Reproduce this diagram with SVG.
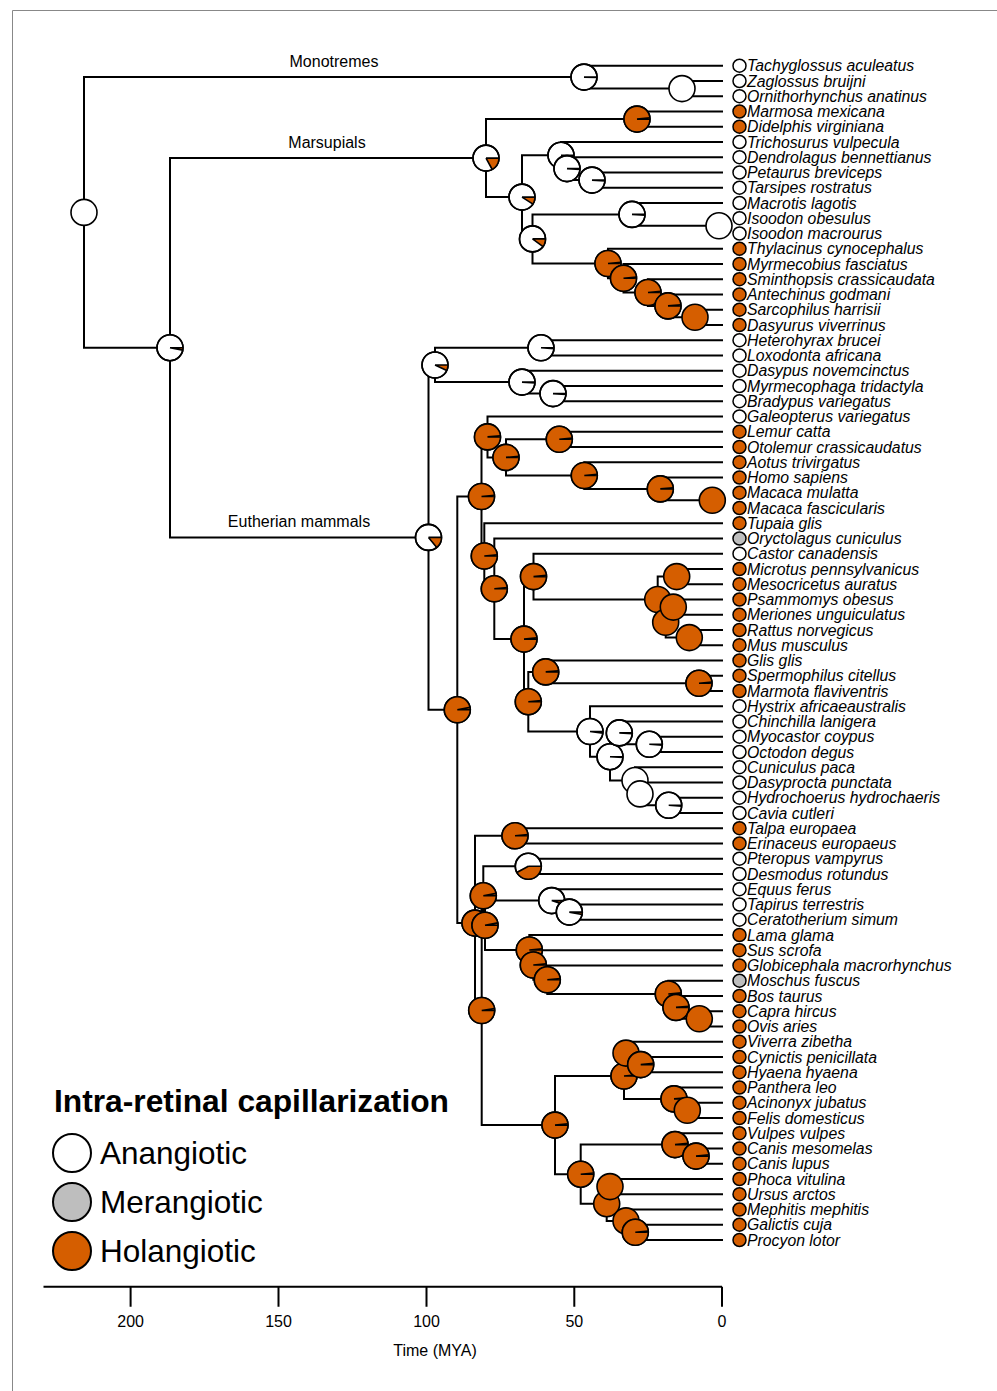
<svg xmlns="http://www.w3.org/2000/svg" xmlns:xlink="http://www.w3.org/1999/xlink" width="997" height="1391" viewBox="0 0 997 1391">
<style>
.br{fill:none;stroke:#000;stroke-width:2}
.pw{fill:#fff;stroke:#000;stroke-width:1.6}
.po{fill:#D55E00;stroke:#000;stroke-width:1.6}
.pb{fill:none;stroke:#000;stroke-width:1.6}
.wo{fill:none;stroke:#D55E00;stroke-width:13}
.rl{fill:none;stroke:#000;stroke-width:1.6}
.tips circle{stroke:#000;stroke-width:1.5}
.lw{fill:#fff}.lo{fill:#D55E00}.lg{fill:#BEBEBE}
.sp{font-family:"Liberation Sans",Arial,sans-serif;font-style:italic;font-size:15.8px;fill:#000}
.cl{font-family:"Liberation Sans",Arial,sans-serif;font-size:16px;fill:#000;text-anchor:middle}
.lt{font-family:"Liberation Sans",Arial,sans-serif;font-size:31.5px;fill:#000}
.ax{font-family:"Liberation Sans",Arial,sans-serif;font-size:16px;fill:#000;text-anchor:middle}
.lc{stroke:#000;stroke-width:2}
</style>
<defs>
<circle id="PW" class="pw" r="13"/>
<circle id="PO" class="po" r="13"/>
<g id="P005"><circle class="pw" r="13"/><circle class="wo" r="6.5" stroke-dasharray="0.2 50"/><path class="rl" d="M0,0H13M0,0L12.99,0.41"/><circle class="pb" r="13"/></g>
<g id="P01"><circle class="pw" r="13"/><circle class="wo" r="6.5" stroke-dasharray="0.41 50"/><path class="rl" d="M0,0H13M0,0L12.97,0.82"/><circle class="pb" r="13"/></g>
<g id="P02"><circle class="pw" r="13"/><circle class="wo" r="6.5" stroke-dasharray="0.82 50"/><path class="rl" d="M0,0H13M0,0L12.9,1.63"/><circle class="pb" r="13"/></g>
<g id="P03"><circle class="pw" r="13"/><circle class="wo" r="6.5" stroke-dasharray="1.23 50"/><path class="rl" d="M0,0H13M0,0L12.77,2.44"/><circle class="pb" r="13"/></g>
<g id="P05"><circle class="pw" r="13"/><circle class="wo" r="6.5" stroke-dasharray="2.04 50"/><path class="rl" d="M0,0H13M0,0L12.36,4.02"/><circle class="pb" r="13"/></g>
<g id="P07"><circle class="pw" r="13"/><circle class="wo" r="6.5" stroke-dasharray="2.86 50"/><path class="rl" d="M0,0H13M0,0L11.76,5.53"/><circle class="pb" r="13"/></g>
<g id="P09"><circle class="pw" r="13"/><circle class="wo" r="6.5" stroke-dasharray="3.68 50"/><path class="rl" d="M0,0H13M0,0L10.98,6.97"/><circle class="pb" r="13"/></g>
<g id="P10"><circle class="pw" r="13"/><circle class="wo" r="6.5" stroke-dasharray="4.08 50"/><path class="rl" d="M0,0H13M0,0L10.52,7.64"/><circle class="pb" r="13"/></g>
<g id="P14"><circle class="pw" r="13"/><circle class="wo" r="6.5" stroke-dasharray="5.72 50"/><path class="rl" d="M0,0H13M0,0L8.29,10.02"/><circle class="pb" r="13"/></g>
<g id="P17"><circle class="pw" r="13"/><circle class="wo" r="6.5" stroke-dasharray="6.94 50"/><path class="rl" d="M0,0H13M0,0L6.26,11.39"/><circle class="pb" r="13"/></g>
<g id="P42"><circle class="pw" r="13"/><circle class="wo" r="6.5" stroke-dasharray="17.15 50"/><path class="rl" d="M0,0H13M0,0L-11.39,6.26"/><circle class="pb" r="13"/></g>
<g id="P97"><circle class="pw" r="13"/><circle class="wo" r="6.5" stroke-dasharray="39.62 50"/><path class="rl" d="M0,0H13M0,0L12.77,-2.44"/><circle class="pb" r="13"/></g>
<g id="P975"><circle class="pw" r="13"/><circle class="wo" r="6.5" stroke-dasharray="39.82 50"/><path class="rl" d="M0,0H13M0,0L12.84,-2.03"/><circle class="pb" r="13"/></g>
<g id="P985"><circle class="pw" r="13"/><circle class="wo" r="6.5" stroke-dasharray="40.23 50"/><path class="rl" d="M0,0H13M0,0L12.94,-1.22"/><circle class="pb" r="13"/></g>
</defs>
<rect width="997" height="1391" fill="#fff"/>
<path d="M12.5,1391V10.5H997" fill="none" stroke="#888" stroke-width="1"/>

<g id="connectors" class="br">
<path d="M584,77.1H84V347.7H170M723,65.7H584V88.6H682M723,81H682V96.2H723"/>
<path d="M486,158.1H170V537.4H428.5M637,119.1H486V197.1H522M723,111.5H637V126.7H723M561,155.3H522V238.9H532.5M723,142H561V168.6H567M723,157.2H567V180.1H592M723,172.5H592V187.7H723"/>
<path d="M632,214.4H532.5V263.5H608M723,203H632V225.8H719M723,218.2H719V233.5H723M723,248.7H608V278.3H623.5M723,264H623.5V292.5H648M723,279.2H648V305.9H668M723,294.5H668V317.3H695M723,309.7H695V325H723"/>
<path d="M435,365H428.5V709.8H457.3M541,347.8H435V382.1H522M723,340.2H541V355.5H723M723,370.7H522V393.6H553M723,386H553V401.2H723"/>
<path d="M481.5,496.5H457.3V923.1H475M487.5,436.9H481.5V556H484.3M723,416.5H487.5V457.4H506M559.3,439.3H506V475.5H584.3M723,431.7H559.3V447H723M723,462.2H584.3V488.9H660.3M723,477.5H660.3V500.3H712.3M723,492.7H712.3V508H723"/>
<path d="M723,523.2H484.3V588.8H494.3M723,538.5H494.3V639.1H524M533.5,576.6H524V701.7H528.3M723,553.7H533.5V599.5H657.7M676.7,576.6H657.7V622.3H665.7M723,569H676.7V584.2H723M673.3,607.1H665.7V637.6H689.3M723,599.5H673.3V614.7H723M723,630H689.3V645.2H723"/>
<path d="M545.7,671.9H528.3V731.5H590M723,660.5H545.7V683.3H699M723,675.7H699V691H723M723,706.2H590V756.7H610M619.3,732.9H610V780.5H635M723,721.5H619.3V744.3H649.3M723,736.7H649.3V752H723M723,767.2H635V793.9H640M723,782.5H640V805.3H668.7M723,797.7H668.7V813H723"/>
<path d="M515,835.8H475V1010.5H481.7M723,828.2H515V843.5H723M483.3,895.8H481.7V1125.1H555M528.3,866.3H483.3V925.3H485M723,858.7H528.3V874H723M551.7,900.6H485V950H529.3M723,889.2H551.7V912.1H569.3M723,904.5H569.3V919.7H723"/>
<path d="M723,935H529.3V965H533.3M723,950.2H533.3V979.8H547.3M723,965.5H547.3V994H668.3M723,980.7H668.3V1007.4H676M723,996H676V1018.8H699.3M723,1011.2H699.3V1026.5H723"/>
<path d="M624,1076H555V1174.2H580.7M626,1053.1H624V1098.9H674M723,1041.7H626V1064.6H640.7M723,1057H640.7V1072.2H723M723,1087.5H674V1110.3H687.3M723,1102.7H687.3V1118H723"/>
<path d="M675,1144.6H580.7V1203.7H606.7M723,1133.2H675V1156.1H696M723,1148.5H696V1163.7H723M610,1186.6H606.7V1220.9H626M723,1179H610V1194.2H723M723,1209.5H626V1232.3H635.3M723,1224.7H635.3V1240H723"/>
</g>

<g id="clade-labels">
<text class="cl" x="334" y="66.5">Monotremes</text>
<text class="cl" x="327" y="147.5">Marsupials</text>
<text class="cl" x="299" y="526.5">Eutherian mammals</text>
</g>

<g id="internal-nodes">
<g id="n-root"><use href="#PW" x="84" y="212.4"/></g>
<g id="n-monotremes"><use href="#P005" x="584" y="77.1"/></g>
<g id="n-zaglossus-ornitho"><use href="#PW" x="682" y="88.6"/></g>
<g id="n-theria"><use href="#P03" x="170" y="347.7"/></g>
<g id="n-marsupials"><use href="#P17" x="486" y="158.1"/></g>
<g id="n-didelphids"><use href="#P985" x="637" y="119.1"/></g>
<g id="n-australidelphia"><use href="#P09" x="522" y="197.1"/></g>
<g id="n-diprotodontia"><use href="#P01" x="561" y="155.3"/></g>
<g id="n-dendro-pet-tars"><use href="#P01" x="567" y="168.6"/></g>
<g id="n-pet-tars"><use href="#P01" x="592" y="180.1"/></g>
<g id="n-pera-dasyuro"><use href="#P10" x="532.5" y="238.9"/></g>
<g id="n-peramelidae"><use href="#P01" x="632" y="214.4"/></g>
<g id="n-isoodon"><use href="#PW" x="719" y="225.8"/></g>
<g id="n-dasyuromorphia"><use href="#P985" x="608" y="263.5"/></g>
<g id="n-myrmecobius"><use href="#P985" x="623.5" y="278.3"/></g>
<g id="n-sminthopsis"><use href="#P985" x="648" y="292.5"/></g>
<g id="n-antechinus"><use href="#P985" x="668" y="305.9"/></g>
<g id="n-sarco-dasyurus"><use href="#PO" x="695" y="317.3"/></g>
<g id="n-eutheria"><use href="#P14" x="428.5" y="537.4"/></g>
<g id="n-atlantogenata"><use href="#P07" x="435" y="365"/></g>
<g id="n-afrotheria"><use href="#P01" x="541" y="347.8"/></g>
<g id="n-xenarthra"><use href="#P01" x="522" y="382.1"/></g>
<g id="n-pilosa"><use href="#P01" x="553" y="393.6"/></g>
<g id="n-boreoeutheria"><use href="#P97" x="457.3" y="709.8"/></g>
<g id="n-euarchontoglires"><use href="#P985" x="481.5" y="496.5"/></g>
<g id="n-euarchonta"><use href="#P985" x="487.5" y="436.9"/></g>
<g id="n-primates"><use href="#P985" x="506" y="457.4"/></g>
<g id="n-strepsirrhini"><use href="#P985" x="559.3" y="439.3"/></g>
<g id="n-haplorhini"><use href="#P985" x="584.3" y="475.5"/></g>
<g id="n-catarrhini"><use href="#P985" x="660.3" y="488.9"/></g>
<g id="n-macaca"><use href="#PO" x="712.3" y="500.3"/></g>
<g id="n-tupaia-glires"><use href="#P985" x="484.3" y="556"/></g>
<g id="n-glires"><use href="#P985" x="494.3" y="588.8"/></g>
<g id="n-rodentia"><use href="#P985" x="524" y="639.1"/></g>
<g id="n-castor-muroidea"><use href="#P985" x="533.5" y="576.6"/></g>
<g id="n-muroidea"><use href="#PO" x="657.7" y="599.5"/></g>
<g id="n-cricetidae"><use href="#PO" x="676.7" y="576.6"/></g>
<g id="n-muridae"><use href="#PO" x="665.7" y="622.3"/></g>
<g id="n-gerbillinae"><use href="#PO" x="673.3" y="607.1"/></g>
<g id="n-murinae"><use href="#PO" x="689.3" y="637.6"/></g>
<g id="n-rodentia-lower"><use href="#P985" x="528.3" y="701.7"/></g>
<g id="n-sciuromorpha"><use href="#P985" x="545.7" y="671.9"/></g>
<g id="n-sciuridae"><use href="#P985" x="699" y="683.3"/></g>
<g id="n-hystricomorpha"><use href="#P02" x="590" y="731.5"/></g>
<g id="n-caviomorpha"><use href="#P01" x="610" y="756.7"/></g>
<g id="n-chinchilla-octodont"><use href="#P01" x="619.3" y="732.9"/></g>
<g id="n-octodontoidea"><use href="#P01" x="649.3" y="744.3"/></g>
<g id="n-cuniculus-cavioidea"><use href="#PW" x="635" y="780.5"/></g>
<g id="n-cavioidea"><use href="#PW" x="640" y="793.9"/></g>
<g id="n-caviidae"><use href="#P01" x="668.7" y="805.3"/></g>
<g id="n-laurasiatheria"><use href="#P985" x="475" y="923.1"/></g>
<g id="n-eulipotyphla"><use href="#P985" x="515" y="835.8"/></g>
<g id="n-scrotifera"><use href="#P975" x="481.7" y="1010.5"/></g>
<g id="n-chiro-euungulata"><use href="#P97" x="483.3" y="895.8"/></g>
<g id="n-chiroptera"><use href="#P42" x="528.3" y="866.3"/></g>
<g id="n-euungulata"><use href="#P97" x="485" y="925.3"/></g>
<g id="n-perissodactyla"><use href="#P05" x="551.7" y="900.6"/></g>
<g id="n-tapir-rhino"><use href="#P03" x="569.3" y="912.1"/></g>
<g id="n-cetartiodactyla"><use href="#P985" x="529.3" y="950"/></g>
<g id="n-artiofabula"><use href="#P985" x="533.3" y="965"/></g>
<g id="n-cetruminantia"><use href="#P985" x="547.3" y="979.8"/></g>
<g id="n-ruminantia"><use href="#P985" x="668.3" y="994"/></g>
<g id="n-bovidae"><use href="#P985" x="676" y="1007.4"/></g>
<g id="n-caprinae"><use href="#PO" x="699.3" y="1018.8"/></g>
<g id="n-carnivora"><use href="#P985" x="555" y="1125.1"/></g>
<g id="n-feliformia"><use href="#P985" x="624" y="1076"/></g>
<g id="n-viverra-herp-hyaena"><use href="#PO" x="626" y="1053.1"/></g>
<g id="n-herp-hyaena"><use href="#P985" x="640.7" y="1064.6"/></g>
<g id="n-felidae"><use href="#P985" x="674" y="1098.9"/></g>
<g id="n-acinonyx-felis"><use href="#PO" x="687.3" y="1110.3"/></g>
<g id="n-caniformia"><use href="#P985" x="580.7" y="1174.2"/></g>
<g id="n-canidae"><use href="#P985" x="675" y="1144.6"/></g>
<g id="n-canis"><use href="#P985" x="696" y="1156.1"/></g>
<g id="n-arctoidea"><use href="#PO" x="606.7" y="1203.7"/></g>
<g id="n-phoca-ursus"><use href="#PO" x="610" y="1186.6"/></g>
<g id="n-musteloidea"><use href="#PO" x="626" y="1220.9"/></g>
<g id="n-galictis-procyon"><use href="#P985" x="635.3" y="1232.3"/></g>
</g>

<g id="tips" class="tips">
<g id="t01" transform="translate(0,65.7)"><circle class="lw" cx="739.5" r="6.5"/><text class="sp" x="747" y="5.5">Tachyglossus aculeatus</text></g>
<g id="t02" transform="translate(0,81)"><circle class="lw" cx="739.5" r="6.5"/><text class="sp" x="747" y="5.5">Zaglossus bruijni</text></g>
<g id="t03" transform="translate(0,96.2)"><circle class="lw" cx="739.5" r="6.5"/><text class="sp" x="747" y="5.5">Ornithorhynchus anatinus</text></g>
<g id="t04" transform="translate(0,111.5)"><circle class="lo" cx="739.5" r="6.5"/><text class="sp" x="747" y="5.5">Marmosa mexicana</text></g>
<g id="t05" transform="translate(0,126.7)"><circle class="lo" cx="739.5" r="6.5"/><text class="sp" x="747" y="5.5">Didelphis virginiana</text></g>
<g id="t06" transform="translate(0,142)"><circle class="lw" cx="739.5" r="6.5"/><text class="sp" x="747" y="5.5">Trichosurus vulpecula</text></g>
<g id="t07" transform="translate(0,157.2)"><circle class="lw" cx="739.5" r="6.5"/><text class="sp" x="747" y="5.5">Dendrolagus bennettianus</text></g>
<g id="t08" transform="translate(0,172.5)"><circle class="lw" cx="739.5" r="6.5"/><text class="sp" x="747" y="5.5">Petaurus breviceps</text></g>
<g id="t09" transform="translate(0,187.7)"><circle class="lw" cx="739.5" r="6.5"/><text class="sp" x="747" y="5.5">Tarsipes rostratus</text></g>
<g id="t10" transform="translate(0,203)"><circle class="lw" cx="739.5" r="6.5"/><text class="sp" x="747" y="5.5">Macrotis lagotis</text></g>
<g id="t11" transform="translate(0,218.2)"><circle class="lw" cx="739.5" r="6.5"/><text class="sp" x="747" y="5.5">Isoodon obesulus</text></g>
<g id="t12" transform="translate(0,233.5)"><circle class="lw" cx="739.5" r="6.5"/><text class="sp" x="747" y="5.5">Isoodon macrourus</text></g>
<g id="t13" transform="translate(0,248.7)"><circle class="lo" cx="739.5" r="6.5"/><text class="sp" x="747" y="5.5">Thylacinus cynocephalus</text></g>
<g id="t14" transform="translate(0,264)"><circle class="lo" cx="739.5" r="6.5"/><text class="sp" x="747" y="5.5">Myrmecobius fasciatus</text></g>
<g id="t15" transform="translate(0,279.2)"><circle class="lo" cx="739.5" r="6.5"/><text class="sp" x="747" y="5.5">Sminthopsis crassicaudata</text></g>
<g id="t16" transform="translate(0,294.5)"><circle class="lo" cx="739.5" r="6.5"/><text class="sp" x="747" y="5.5">Antechinus godmani</text></g>
<g id="t17" transform="translate(0,309.7)"><circle class="lo" cx="739.5" r="6.5"/><text class="sp" x="747" y="5.5">Sarcophilus harrisii</text></g>
<g id="t18" transform="translate(0,325)"><circle class="lo" cx="739.5" r="6.5"/><text class="sp" x="747" y="5.5">Dasyurus viverrinus</text></g>
<g id="t19" transform="translate(0,340.2)"><circle class="lw" cx="739.5" r="6.5"/><text class="sp" x="747" y="5.5">Heterohyrax brucei</text></g>
<g id="t20" transform="translate(0,355.5)"><circle class="lw" cx="739.5" r="6.5"/><text class="sp" x="747" y="5.5">Loxodonta africana</text></g>
<g id="t21" transform="translate(0,370.7)"><circle class="lw" cx="739.5" r="6.5"/><text class="sp" x="747" y="5.5">Dasypus novemcinctus</text></g>
<g id="t22" transform="translate(0,386)"><circle class="lw" cx="739.5" r="6.5"/><text class="sp" x="747" y="5.5">Myrmecophaga tridactyla</text></g>
<g id="t23" transform="translate(0,401.2)"><circle class="lw" cx="739.5" r="6.5"/><text class="sp" x="747" y="5.5">Bradypus variegatus</text></g>
<g id="t24" transform="translate(0,416.5)"><circle class="lw" cx="739.5" r="6.5"/><text class="sp" x="747" y="5.5">Galeopterus variegatus</text></g>
<g id="t25" transform="translate(0,431.7)"><circle class="lo" cx="739.5" r="6.5"/><text class="sp" x="747" y="5.5">Lemur catta</text></g>
<g id="t26" transform="translate(0,447)"><circle class="lo" cx="739.5" r="6.5"/><text class="sp" x="747" y="5.5">Otolemur crassicaudatus</text></g>
<g id="t27" transform="translate(0,462.2)"><circle class="lo" cx="739.5" r="6.5"/><text class="sp" x="747" y="5.5">Aotus trivirgatus</text></g>
<g id="t28" transform="translate(0,477.5)"><circle class="lo" cx="739.5" r="6.5"/><text class="sp" x="747" y="5.5">Homo sapiens</text></g>
<g id="t29" transform="translate(0,492.7)"><circle class="lo" cx="739.5" r="6.5"/><text class="sp" x="747" y="5.5">Macaca mulatta</text></g>
<g id="t30" transform="translate(0,508)"><circle class="lo" cx="739.5" r="6.5"/><text class="sp" x="747" y="5.5">Macaca fascicularis</text></g>
<g id="t31" transform="translate(0,523.2)"><circle class="lo" cx="739.5" r="6.5"/><text class="sp" x="747" y="5.5">Tupaia glis</text></g>
<g id="t32" transform="translate(0,538.5)"><circle class="lg" cx="739.5" r="6.5"/><text class="sp" x="747" y="5.5">Oryctolagus cuniculus</text></g>
<g id="t33" transform="translate(0,553.7)"><circle class="lw" cx="739.5" r="6.5"/><text class="sp" x="747" y="5.5">Castor canadensis</text></g>
<g id="t34" transform="translate(0,569)"><circle class="lo" cx="739.5" r="6.5"/><text class="sp" x="747" y="5.5">Microtus pennsylvanicus</text></g>
<g id="t35" transform="translate(0,584.2)"><circle class="lo" cx="739.5" r="6.5"/><text class="sp" x="747" y="5.5">Mesocricetus auratus</text></g>
<g id="t36" transform="translate(0,599.5)"><circle class="lo" cx="739.5" r="6.5"/><text class="sp" x="747" y="5.5">Psammomys obesus</text></g>
<g id="t37" transform="translate(0,614.7)"><circle class="lo" cx="739.5" r="6.5"/><text class="sp" x="747" y="5.5">Meriones unguiculatus</text></g>
<g id="t38" transform="translate(0,630)"><circle class="lo" cx="739.5" r="6.5"/><text class="sp" x="747" y="5.5">Rattus norvegicus</text></g>
<g id="t39" transform="translate(0,645.2)"><circle class="lo" cx="739.5" r="6.5"/><text class="sp" x="747" y="5.5">Mus musculus</text></g>
<g id="t40" transform="translate(0,660.5)"><circle class="lo" cx="739.5" r="6.5"/><text class="sp" x="747" y="5.5">Glis glis</text></g>
<g id="t41" transform="translate(0,675.7)"><circle class="lo" cx="739.5" r="6.5"/><text class="sp" x="747" y="5.5">Spermophilus citellus</text></g>
<g id="t42" transform="translate(0,691)"><circle class="lo" cx="739.5" r="6.5"/><text class="sp" x="747" y="5.5">Marmota flaviventris</text></g>
<g id="t43" transform="translate(0,706.2)"><circle class="lw" cx="739.5" r="6.5"/><text class="sp" x="747" y="5.5">Hystrix africaeaustralis</text></g>
<g id="t44" transform="translate(0,721.5)"><circle class="lw" cx="739.5" r="6.5"/><text class="sp" x="747" y="5.5">Chinchilla lanigera</text></g>
<g id="t45" transform="translate(0,736.7)"><circle class="lw" cx="739.5" r="6.5"/><text class="sp" x="747" y="5.5">Myocastor coypus</text></g>
<g id="t46" transform="translate(0,752)"><circle class="lw" cx="739.5" r="6.5"/><text class="sp" x="747" y="5.5">Octodon degus</text></g>
<g id="t47" transform="translate(0,767.2)"><circle class="lw" cx="739.5" r="6.5"/><text class="sp" x="747" y="5.5">Cuniculus paca</text></g>
<g id="t48" transform="translate(0,782.5)"><circle class="lw" cx="739.5" r="6.5"/><text class="sp" x="747" y="5.5">Dasyprocta punctata</text></g>
<g id="t49" transform="translate(0,797.7)"><circle class="lw" cx="739.5" r="6.5"/><text class="sp" x="747" y="5.5">Hydrochoerus hydrochaeris</text></g>
<g id="t50" transform="translate(0,813)"><circle class="lw" cx="739.5" r="6.5"/><text class="sp" x="747" y="5.5">Cavia cutleri</text></g>
<g id="t51" transform="translate(0,828.2)"><circle class="lo" cx="739.5" r="6.5"/><text class="sp" x="747" y="5.5">Talpa europaea</text></g>
<g id="t52" transform="translate(0,843.5)"><circle class="lo" cx="739.5" r="6.5"/><text class="sp" x="747" y="5.5">Erinaceus europaeus</text></g>
<g id="t53" transform="translate(0,858.7)"><circle class="lw" cx="739.5" r="6.5"/><text class="sp" x="747" y="5.5">Pteropus vampyrus</text></g>
<g id="t54" transform="translate(0,874)"><circle class="lw" cx="739.5" r="6.5"/><text class="sp" x="747" y="5.5">Desmodus rotundus</text></g>
<g id="t55" transform="translate(0,889.2)"><circle class="lw" cx="739.5" r="6.5"/><text class="sp" x="747" y="5.5">Equus ferus</text></g>
<g id="t56" transform="translate(0,904.5)"><circle class="lw" cx="739.5" r="6.5"/><text class="sp" x="747" y="5.5">Tapirus terrestris</text></g>
<g id="t57" transform="translate(0,919.7)"><circle class="lw" cx="739.5" r="6.5"/><text class="sp" x="747" y="5.5">Ceratotherium simum</text></g>
<g id="t58" transform="translate(0,935)"><circle class="lo" cx="739.5" r="6.5"/><text class="sp" x="747" y="5.5">Lama glama</text></g>
<g id="t59" transform="translate(0,950.2)"><circle class="lo" cx="739.5" r="6.5"/><text class="sp" x="747" y="5.5">Sus scrofa</text></g>
<g id="t60" transform="translate(0,965.5)"><circle class="lo" cx="739.5" r="6.5"/><text class="sp" x="747" y="5.5">Globicephala macrorhynchus</text></g>
<g id="t61" transform="translate(0,980.7)"><circle class="lg" cx="739.5" r="6.5"/><text class="sp" x="747" y="5.5">Moschus fuscus</text></g>
<g id="t62" transform="translate(0,996)"><circle class="lo" cx="739.5" r="6.5"/><text class="sp" x="747" y="5.5">Bos taurus</text></g>
<g id="t63" transform="translate(0,1011.2)"><circle class="lo" cx="739.5" r="6.5"/><text class="sp" x="747" y="5.5">Capra hircus</text></g>
<g id="t64" transform="translate(0,1026.5)"><circle class="lo" cx="739.5" r="6.5"/><text class="sp" x="747" y="5.5">Ovis aries</text></g>
<g id="t65" transform="translate(0,1041.7)"><circle class="lo" cx="739.5" r="6.5"/><text class="sp" x="747" y="5.5">Viverra zibetha</text></g>
<g id="t66" transform="translate(0,1057)"><circle class="lo" cx="739.5" r="6.5"/><text class="sp" x="747" y="5.5">Cynictis penicillata</text></g>
<g id="t67" transform="translate(0,1072.2)"><circle class="lo" cx="739.5" r="6.5"/><text class="sp" x="747" y="5.5">Hyaena hyaena</text></g>
<g id="t68" transform="translate(0,1087.5)"><circle class="lo" cx="739.5" r="6.5"/><text class="sp" x="747" y="5.5">Panthera leo</text></g>
<g id="t69" transform="translate(0,1102.7)"><circle class="lo" cx="739.5" r="6.5"/><text class="sp" x="747" y="5.5">Acinonyx jubatus</text></g>
<g id="t70" transform="translate(0,1118)"><circle class="lo" cx="739.5" r="6.5"/><text class="sp" x="747" y="5.5">Felis domesticus</text></g>
<g id="t71" transform="translate(0,1133.2)"><circle class="lo" cx="739.5" r="6.5"/><text class="sp" x="747" y="5.5">Vulpes vulpes</text></g>
<g id="t72" transform="translate(0,1148.5)"><circle class="lo" cx="739.5" r="6.5"/><text class="sp" x="747" y="5.5">Canis mesomelas</text></g>
<g id="t73" transform="translate(0,1163.7)"><circle class="lo" cx="739.5" r="6.5"/><text class="sp" x="747" y="5.5">Canis lupus</text></g>
<g id="t74" transform="translate(0,1179)"><circle class="lo" cx="739.5" r="6.5"/><text class="sp" x="747" y="5.5">Phoca vitulina</text></g>
<g id="t75" transform="translate(0,1194.2)"><circle class="lo" cx="739.5" r="6.5"/><text class="sp" x="747" y="5.5">Ursus arctos</text></g>
<g id="t76" transform="translate(0,1209.5)"><circle class="lo" cx="739.5" r="6.5"/><text class="sp" x="747" y="5.5">Mephitis mephitis</text></g>
<g id="t77" transform="translate(0,1224.7)"><circle class="lo" cx="739.5" r="6.5"/><text class="sp" x="747" y="5.5">Galictis cuja</text></g>
<g id="t78" transform="translate(0,1240)"><circle class="lo" cx="739.5" r="6.5"/><text class="sp" x="747" y="5.5">Procyon lotor</text></g>
</g>

<g id="legend">
<text x="54" y="1112" font-family="'Liberation Sans',Arial,sans-serif" font-weight="bold" font-size="31.5" textLength="395" lengthAdjust="spacingAndGlyphs">Intra-retinal capillarization</text>
<circle class="lc" cx="72" cy="1153" r="19" fill="#fff"/>
<text class="lt" x="100" y="1163.5">Anangiotic</text>
<circle class="lc" cx="72" cy="1202" r="19" fill="#BEBEBE"/>
<text class="lt" x="100" y="1212.5">Merangiotic</text>
<circle class="lc" cx="72" cy="1251" r="19" fill="#D55E00"/>
<text class="lt" x="100" y="1261.5">Holangiotic</text>
</g>

<g id="axis">
<path d="M43.5,1286.7H722M130.6,1286.7V1306.7M278.5,1286.7V1306.7M426.5,1286.7V1306.7M574.3,1286.7V1306.7M722,1286.7V1306.7" fill="none" stroke="#000" stroke-width="2"/>
<text class="ax" x="130.6" y="1327.3">200</text>
<text class="ax" x="278.5" y="1327.3">150</text>
<text class="ax" x="426.5" y="1327.3">100</text>
<text class="ax" x="574.3" y="1327.3">50</text>
<text class="ax" x="722" y="1327.3">0</text>
<text class="ax" x="435" y="1355.5" font-size="15.5">Time (MYA)</text>
</g>
</svg>
